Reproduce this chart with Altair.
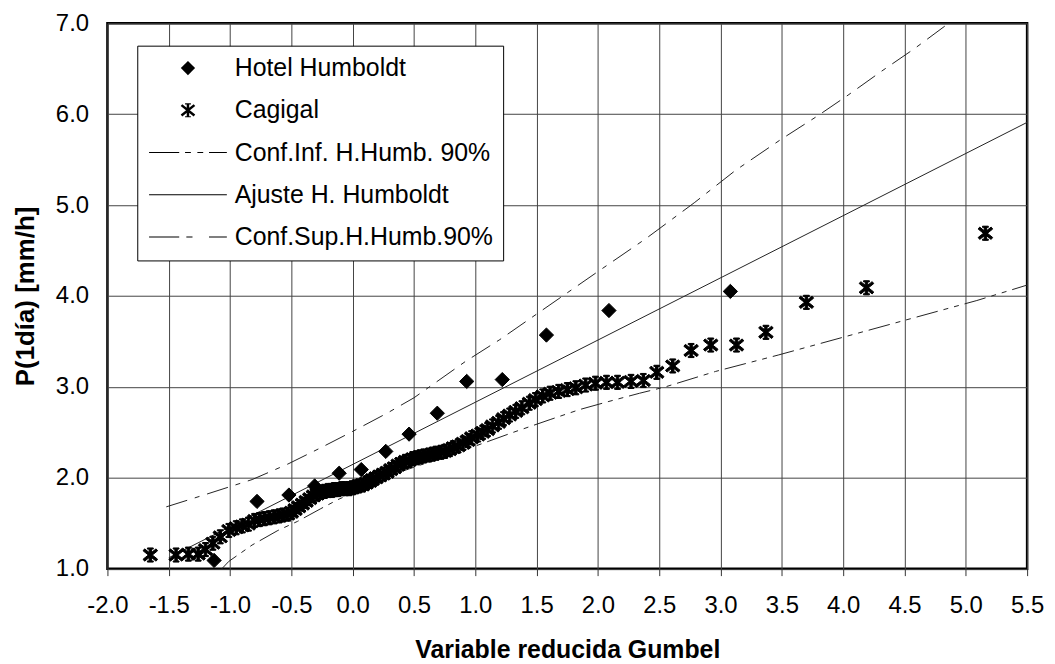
import altair as alt
import pandas as pd

# ---------------- data ----------------
S_HH = "Hotel Humboldt"
S_CAG = "Cagigal"
S_INF = "Conf.Inf. H.Humb. 90%"
S_FIT = "Ajuste H. Humboldt"
S_SUP = "Conf.Sup.H.Humb.90%"
SERIES = [S_HH, S_CAG, S_INF, S_FIT, S_SUP]

HH_X = [-1.13, -0.78, -0.52, -0.31, -0.11, 0.07, 0.27, 0.46, 0.69, 0.93, 1.22, 1.58, 2.09, 3.08]
HH_Y = [1.09, 1.74, 1.81, 1.91, 2.05, 2.09, 2.29, 2.48, 2.71, 3.06, 3.08, 3.57, 3.84, 4.05]

CAG_X = [-1.65, -1.44, -1.34, -1.26, -1.20, -1.14, -1.08, -1.01, -0.95, -0.90, -0.85, -0.80,
         -0.76, -0.72, -0.68, -0.64, -0.60, -0.57, -0.53, -0.50,
         -0.47, -0.44, -0.41, -0.38, -0.35, -0.32, -0.29, -0.26, -0.23, -0.20,
         -0.17, -0.15, -0.12, -0.09, -0.06, -0.03, 0.00,
         0.02, 0.05, 0.08, 0.11, 0.14, 0.16, 0.19, 0.22, 0.25, 0.28,
         0.31, 0.34, 0.37, 0.40, 0.43, 0.46, 0.49, 0.52, 0.55, 0.58,
         0.62, 0.65, 0.68, 0.72, 0.75, 0.79, 0.82, 0.86, 0.90, 0.94, 0.97,
         1.02, 1.06, 1.10, 1.14, 1.19, 1.23, 1.28, 1.33, 1.38, 1.44, 1.49,
         1.55, 1.61, 1.68, 1.75, 1.82, 1.90, 1.98, 2.07, 2.16, 2.27, 2.37,
         2.48, 2.61, 2.76, 2.92, 3.13, 3.37, 3.70, 4.19, 5.16]
CAG_Y = [1.15, 1.15, 1.16, 1.16, 1.21, 1.28, 1.35, 1.42, 1.45, 1.47, 1.49, 1.53,
         1.54, 1.55, 1.56, 1.57, 1.58, 1.59, 1.60, 1.62,
         1.65, 1.68, 1.71, 1.74, 1.77, 1.80, 1.82, 1.84, 1.85, 1.86,
         1.86, 1.87, 1.87, 1.88, 1.88, 1.88, 1.89,
         1.90, 1.91, 1.92, 1.94, 1.96, 1.98, 2.00, 2.02, 2.04, 2.06,
         2.09, 2.11, 2.14, 2.16, 2.18, 2.19, 2.21, 2.22, 2.23, 2.24,
         2.25, 2.26, 2.27, 2.28, 2.29, 2.31, 2.33, 2.35, 2.38, 2.41, 2.44,
         2.47, 2.50, 2.53, 2.57, 2.61, 2.65, 2.69, 2.73, 2.77, 2.82, 2.86,
         2.90, 2.93, 2.95, 2.97, 2.99, 3.02, 3.04, 3.05, 3.05, 3.06, 3.07,
         3.16, 3.23, 3.40, 3.46, 3.46, 3.60, 3.93, 4.09, 4.69]

FIT_X = [-1.50, 5.50]
FIT_Y = [1.12, 5.91]

SUP_X = [-1.52, -1.19, -0.82, -0.53, -0.26, 0.00, 0.28, 0.50, 0.92, 1.20, 1.98, 2.39,
         2.79, 3.12, 3.49, 3.79, 4.04, 4.31, 4.58, 4.86]
SUP_Y = [1.68, 1.82, 1.98, 2.15, 2.33, 2.51, 2.71, 2.88, 3.28, 3.52, 4.25, 4.63,
         5.03, 5.38, 5.72, 5.98, 6.21, 6.47, 6.72, 7.00]

INF_X = [-1.08, -1.01, -0.82, -0.61, -0.45, -0.26, -0.12, 0.40, 0.90, 1.31, 1.61, 1.85,
         2.09, 2.34, 2.55, 2.96, 3.47, 4.01, 4.55, 5.09, 5.50]
INF_Y = [0.98, 1.08, 1.26, 1.42, 1.52, 1.66, 1.76, 2.07, 2.30, 2.50, 2.64, 2.75,
         2.84, 2.93, 3.00, 3.17, 3.35, 3.55, 3.75, 3.95, 4.12]

X_TICKS = [-2.0, -1.5, -1.0, -0.5, 0.0, 0.5, 1.0, 1.5, 2.0, 2.5, 3.0, 3.5, 4.0, 4.5, 5.0, 5.5]
Y_TICKS = [1.0, 2.0, 3.0, 4.0, 5.0, 6.0, 7.0]

DASH_INF = [22, 6, 5, 6, 5, 6]
DASH_SUP = [22, 8, 5, 8]

# ---------------- tables ----------------
pts = pd.DataFrame({
    "x": HH_X + CAG_X,
    "y": HH_Y + CAG_Y,
    "series": [S_HH] * len(HH_X) + [S_CAG] * len(CAG_X),
})


def line_df(xs_, ys_):
    return pd.DataFrame({"x": xs_, "y": ys_, "order": list(range(len(xs_)))})


# ---------------- symbol shapes (unit box, filled) ----------------
def rect(a, b, h=0.08):
    return f"M{a},{-h}H{b}V{h}H{a}Z"


DIAMOND = "M0,-1.1L1.1,0L0,1.1L-1.1,0Z"
STAR = (
    "M-0.19,-1H0.19V1H-0.19Z"
    "M-0.88,-0.95L1.12,0.65L0.88,0.95L-1.12,-0.65Z"
    "M-1.12,0.65L0.88,-0.95L1.12,-0.65L-0.88,0.95Z"
    "M-0.45,-1.09H0.45V-0.91H-0.45Z"
    "M-0.45,0.91H0.45V1.09H-0.45Z"
)
SYM_FIT = rect(-6, 6)
SYM_INF = rect(-6, -1.35) + rect(-0.45, 0.45) + rect(1.45, 2.35) + rect(3.25, 6)
SYM_SUP = rect(-6, -1.35) + rect(-0.25, 0.7) + rect(3.25, 6)

FONT = "Liberation Sans"

LEG = alt.Legend(
    title=None, orient="none", legendX=30, legendY=22.5, direction="vertical",
    labelFont=FONT, labelFontSize=25, labelColor="black", labelOffset=34.5,
    padding=10, rowPadding=16.5, symbolOffset=28.5, symbolSize=170,
    symbolOpacity=1, symbolFillColor="black", symbolStrokeColor="black",
    symbolStrokeWidth=0.5,
    strokeColor="black", fillColor="white", labelLimit=500,
)

shape_scale = alt.Scale(domain=SERIES, range=[DIAMOND, STAR, SYM_INF, SYM_FIT, SYM_SUP])

xs = alt.Scale(domain=[-2, 5.5], nice=False, zero=False)
ys = alt.Scale(domain=[1, 7], nice=False, zero=False)

AX = dict(
    domain=False, grid=True, gridColor="#444", gridWidth=1,
    labelFont=FONT, labelFontSize=24, labelColor="black", labelOverlap=False,
    labelFlush=False,
    titleFont=FONT, titleFontWeight="bold", titleColor="black",
)

x_axis = alt.Axis(
    values=X_TICKS, title="Variable reducida Gumbel",
    labelExpr="replace(format(datum.value, '.1f'), '\u2212', '-')",
    tickSize=7, tickColor="#333", labelPadding=18, titlePadding=20,
    titleFontSize=25, **AX,
)
y_axis = alt.Axis(
    values=Y_TICKS, title="P(1día) [mm/h]", format=".1f",
    ticks=False, labelPadding=19, titlePadding=17, titleFontSize=26, **AX,
)


def curve(df, dash):
    kw = {"strokeDash": dash} if dash else {}
    return alt.Chart(df).mark_line(stroke="#222", strokeWidth=1, clip=True, **kw).encode(
        x=alt.X("x:Q", scale=xs),
        y=alt.Y("y:Q", scale=ys),
        order="order:Q",
    )


c_inf = curve(line_df(INF_X, INF_Y), DASH_INF)
c_fit = curve(line_df(FIT_X, FIT_Y), None)
c_sup = curve(line_df(SUP_X, SUP_Y), DASH_SUP)

points = alt.Chart(pts).mark_point(
    size=170, filled=True, color="black", stroke="black", strokeWidth=1, opacity=1, clip=True
).encode(
    x=alt.X("x:Q", scale=xs, axis=x_axis),
    y=alt.Y("y:Q", scale=ys, axis=y_axis),
    shape=alt.Shape("series:N", scale=shape_scale, legend=LEG),
)

chart = alt.layer(c_inf, c_fit, c_sup, points).properties(
    width=925, height=548.5,
    autosize=alt.AutoSizeParams(type="none"),
    padding={"left": 100, "top": 13.5, "right": 20, "bottom": 92},
).configure(
    background="white"
).configure_view(
    stroke="black", strokeWidth=2.5, fill="white"
)

chart.save("out.html", embed_options={"renderer": "svg", "actions": False})
